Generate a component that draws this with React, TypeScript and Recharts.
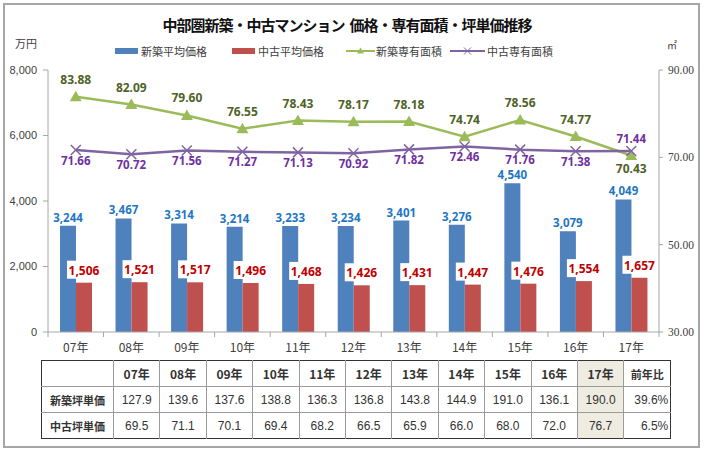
import React from 'react';
import { ComposedChart, Bar, Line, XAxis, YAxis, LabelList } from 'recharts';

const years = ['07年', '08年', '09年', '10年', '11年', '12年', '13年', '14年', '15年', '16年', '17年'];
const newPrice = [3244, 3467, 3314, 3214, 3233, 3234, 3401, 3276, 4540, 3079, 4049];
const usedPrice = [1506, 1521, 1517, 1496, 1468, 1426, 1431, 1447, 1476, 1554, 1657];
const newArea = [83.88, 82.09, 79.6, 76.55, 78.43, 78.17, 78.18, 74.74, 78.56, 74.77, 70.43];
const usedArea = [71.66, 70.72, 71.56, 71.27, 71.13, 70.92, 71.82, 72.46, 71.76, 71.38, 71.44];
const leftTicks = [0, 2000, 4000, 6000, 8000];
const rightTicks = [30, 50, 70, 90];
const tsuboNew = [127.9, 139.6, 137.6, 138.8, 136.3, 136.8, 143.8, 144.9, 191.0, 136.1, 190.0];
const tsuboUsed = [69.5, 71.1, 70.1, 69.4, 68.2, 66.5, 65.9, 66.0, 68.0, 72.0, 76.7];
const yoyNew = '39.6%';
const yoyUsed = '6.5%';

const seriesNames = ['新築平均価格', '中古平均価格', '新築専有面積', '中古専有面積'];
const rowNames = ['新築坪単価', '中古坪単価'];
const yoyHeader = '前年比';

const data = years.map((y, i) => ({
  year: y,
  newPrice: newPrice[i],
  usedPrice: usedPrice[i],
  newArea: newArea[i],
  usedArea: usedArea[i],
}));

const BLUE = '#4F81BD';
const RED = '#C0504D';
const GREEN = '#9BBB59';
const PURPLE = '#8064A2';
const AXIS = '#A6A6A6';
const JP = '"Noto Sans CJK JP", "Noto Sans", sans-serif';
const LABEL_FONT = '"Noto Sans", "DejaVu Sans", sans-serif';

const W = 704;
const LEFT_W = 48;
const RIGHT_W = 45;
const HALF_BAND = (W - LEFT_W - RIGHT_W) / years.length / 2;

const fmt = (v: number) => v.toLocaleString('en-US');

const XTick = (props: any) => {
  const { x, y, payload, index } = props;
  const axisY = y - 8;
  return (
    <g>
      <line x1={x - HALF_BAND} x2={x - HALF_BAND} y1={axisY} y2={axisY + 5} stroke={AXIS} />
      {index === years.length - 1 && (
        <line x1={x + HALF_BAND} x2={x + HALF_BAND} y1={axisY} y2={axisY + 5} stroke={AXIS} />
      )}
      <text x={x} y={y} dy={12} textAnchor="middle" fontSize={12} fill="#404040" fontFamily={JP}>
        {payload.value}
      </text>
    </g>
  );
};

const BlueLabel = (p: any) => {
  const { x, y, width, value } = p;
  return (
    <text x={x + width / 2} y={y - 4} textAnchor="middle" fontSize={11.5} fontWeight="bold" fill="#1F77C4" fontFamily={LABEL_FONT}>
      {fmt(value)}
    </text>
  );
};

const RedLabel = (p: any) => {
  const { x, y, width, value } = p;
  const cx = x + width / 2;
  return (
    <g>
      <rect x={cx - 17} y={y - 22} width={34} height={18} fill="#fff" />
      <text x={cx} y={y - 8} textAnchor="middle" fontSize={12} fontWeight="bold" fill="#C00000" fontFamily={LABEL_FONT}>
        {fmt(value)}
      </text>
    </g>
  );
};

const GreenLabel = (p: any) => {
  const { x, y, value, index } = p;
  const below = usedArea[index] > newArea[index];
  return (
    <text x={x} y={below ? y + 18 : y - 13} textAnchor="middle" fontSize={12} fontWeight="bold" fill="#4F6228" fontFamily={LABEL_FONT}>
      {Number(value).toFixed(2)}
    </text>
  );
};

const PurpleLabel = (p: any) => {
  const { x, y, value, index } = p;
  const above = usedArea[index] > newArea[index];
  return (
    <text x={x} y={above ? y - 8 : y + 14.5} textAnchor="middle" fontSize={11.5} fontWeight="bold" fill="#7030A0" fontFamily={LABEL_FONT}>
      {Number(value).toFixed(2)}
    </text>
  );
};

const TriDot = (p: any) => {
  const { cx, cy } = p;
  if (cx == null || cy == null) return null;
  return <path d={`M${cx},${cy - 6} L${cx + 6},${cy + 4.5} L${cx - 6},${cy + 4.5} Z`} fill={GREEN} />;
};

const XDot = (p: any) => {
  const { cx, cy } = p;
  if (cx == null || cy == null) return null;
  const s = 5;
  return (
    <g stroke={PURPLE} strokeWidth={1.5}>
      <line x1={cx - s} y1={cy - s} x2={cx + s} y2={cy + s} />
      <line x1={cx - s} y1={cy + s} x2={cx + s} y2={cy - s} />
    </g>
  );
};

const cellBase: React.CSSProperties = {
  borderLeft: '1px solid #9a9a9a',
  borderTop: '1px solid #9a9a9a',
  padding: 0,
  height: 25,
  textAlign: 'center',
  fontFamily: '"Liberation Sans", Arial, sans-serif',
  fontSize: 12,
  color: '#333',
};

const HL = '#EEECE1';

export default function App() {
  return (
    <div style={{ position: 'absolute', left: 0, top: 0, width: 704, height: 453, background: '#fff', overflow: 'hidden' }}>
      <ComposedChart
        width={704}
        height={370}
        data={data}
        margin={{ top: 70, right: 0, left: 0, bottom: 8 }}
        barGap={0}
        barSize={16}
      >
        <XAxis
          dataKey="year"
          height={30}
          interval={0}
          tickLine={false}
          axisLine={{ stroke: AXIS }}
          tick={<XTick />}
        />
        <YAxis
          yAxisId="left"
          width={LEFT_W}
          domain={[0, 8000]}
          ticks={leftTicks}
          tickFormatter={fmt}
          tickSize={5}
          tickMargin={6}
          axisLine={{ stroke: AXIS }}
          tickLine={{ stroke: AXIS }}
          tick={{ fontSize: 11, fill: '#404040', fontFamily: '"Liberation Sans", Arial, sans-serif' }}
        />
        <YAxis
          yAxisId="right"
          orientation="right"
          width={RIGHT_W}
          domain={[30, 90]}
          ticks={rightTicks}
          tickFormatter={(v: number) => v.toFixed(2)}
          tickSize={4}
          tickMargin={5}
          axisLine={{ stroke: AXIS }}
          tickLine={{ stroke: AXIS }}
          tick={{ fontSize: 11.5, fill: '#404040', fontFamily: '"Liberation Serif", serif' }}
        />
        <Bar yAxisId="left" dataKey="newPrice" fill={BLUE} isAnimationActive={false}>
          <LabelList dataKey="newPrice" content={BlueLabel} />
        </Bar>
        <Bar yAxisId="left" dataKey="usedPrice" fill={RED} isAnimationActive={false}>
          <LabelList dataKey="usedPrice" content={RedLabel} />
        </Bar>
        <Line yAxisId="right" dataKey="newArea" stroke={GREEN} strokeWidth={2.5} dot={<TriDot />} activeDot={false} isAnimationActive={false}>
          <LabelList dataKey="newArea" content={GreenLabel} />
        </Line>
        <Line yAxisId="right" dataKey="usedArea" stroke={PURPLE} strokeWidth={2.5} dot={<XDot />} activeDot={false} isAnimationActive={false}>
          <LabelList dataKey="usedArea" content={PurpleLabel} />
        </Line>
      </ComposedChart>

      {/* Title */}
      <div style={{ position: 'absolute', left: 0, width: 694, top: 14, textAlign: 'center', fontFamily: JP, fontWeight: 'bold', fontSize: 15, letterSpacing: -1, color: '#111', whiteSpace: 'nowrap' }}>
        中部圏新築・中古マンション&nbsp;&nbsp;価格・専有面積・坪単価推移
      </div>
      {/* Unit labels */}
      <div style={{ position: 'absolute', left: 15, top: 35, fontFamily: JP, fontSize: 11, color: '#404040' }}>万円</div>
      <div style={{ position: 'absolute', left: 667, top: 37, fontFamily: JP, fontSize: 10, color: '#404040' }}>㎡</div>

      {/* Legend */}
      <div style={{ position: 'absolute', left: 0, top: 43, width: 704, height: 14, fontFamily: JP, fontSize: 11, color: '#404040' }}>
        <div style={{ position: 'absolute', left: 115, top: 5, width: 23, height: 6, background: BLUE }} />
        <div style={{ position: 'absolute', left: 141, top: 0, whiteSpace: 'nowrap' }}>{seriesNames[0]}</div>
        <div style={{ position: 'absolute', left: 232, top: 5, width: 23, height: 6, background: RED }} />
        <div style={{ position: 'absolute', left: 258, top: 0, whiteSpace: 'nowrap' }}>{seriesNames[1]}</div>
        <svg style={{ position: 'absolute', left: 346, top: 0 }} width={29} height={14}>
          <line x1={0} x2={29} y1={8} y2={8} stroke={GREEN} strokeWidth={2} />
          <path d="M14.5,4.5 L18,10.5 L11,10.5 Z" fill={GREEN} />
        </svg>
        <div style={{ position: 'absolute', left: 376, top: 0, whiteSpace: 'nowrap' }}>{seriesNames[2]}</div>
        <svg style={{ position: 'absolute', left: 450, top: 0 }} width={35} height={14}>
          <line x1={0} x2={35} y1={8} y2={8} stroke={PURPLE} strokeWidth={2} />
          <line x1={14} x2={21} y1={4.5} y2={11.5} stroke={PURPLE} strokeWidth={1} />
          <line x1={14} x2={21} y1={11.5} y2={4.5} stroke={PURPLE} strokeWidth={1} />
        </svg>
        <div style={{ position: 'absolute', left: 487, top: 0, whiteSpace: 'nowrap' }}>{seriesNames[3]}</div>
      </div>

      {/* Table */}
      <table
        style={{
          position: 'absolute',
          left: 41,
          top: 360,
          width: 629,
          borderCollapse: 'collapse',
          tableLayout: 'fixed',
          border: '1.5px solid #333',
        }}
      >
        <colgroup>
          <col style={{ width: 72 }} />
          {years.map((y) => (
            <col key={y} style={{ width: 46.4 }} />
          ))}
          <col style={{ width: 47 }} />
        </colgroup>
        <tbody>
          <tr>
            <td style={{ ...cellBase, borderLeft: 'none', borderTop: 'none' }} />
            {years.map((y, i) => (
              <td
                key={y}
                style={{
                  ...cellBase,
                  borderTop: 'none',
                  fontFamily: JP,
                  fontWeight: 'bold',
                  background: i === years.length - 1 ? HL : undefined,
                }}
              >
                {y}
              </td>
            ))}
            <td style={{ ...cellBase, borderTop: 'none', fontFamily: JP, fontWeight: 'bold', fontSize: 11 }}>{yoyHeader}</td>
          </tr>
          {[tsuboNew, tsuboUsed].map((row, r) => (
            <tr key={r}>
              <td style={{ ...cellBase, borderLeft: 'none', fontFamily: JP, fontWeight: 'bold', fontSize: 11 }}>{rowNames[r]}</td>
              {row.map((v, i) => (
                <td key={i} style={{ ...cellBase, background: i === row.length - 1 ? HL : undefined }}>
                  {v.toFixed(1)}
                </td>
              ))}
              <td style={{ ...cellBase, textAlign: 'right', paddingRight: 2 }}>{r === 0 ? yoyNew : yoyUsed}</td>
            </tr>
          ))}
        </tbody>
      </table>

      {/* Outer frame */}
      <div style={{ position: 'absolute', left: 3, top: 3, width: 697, height: 445, border: '2px solid #A6A6A6', boxSizing: 'border-box', pointerEvents: 'none' }} />
    </div>
  );
}
